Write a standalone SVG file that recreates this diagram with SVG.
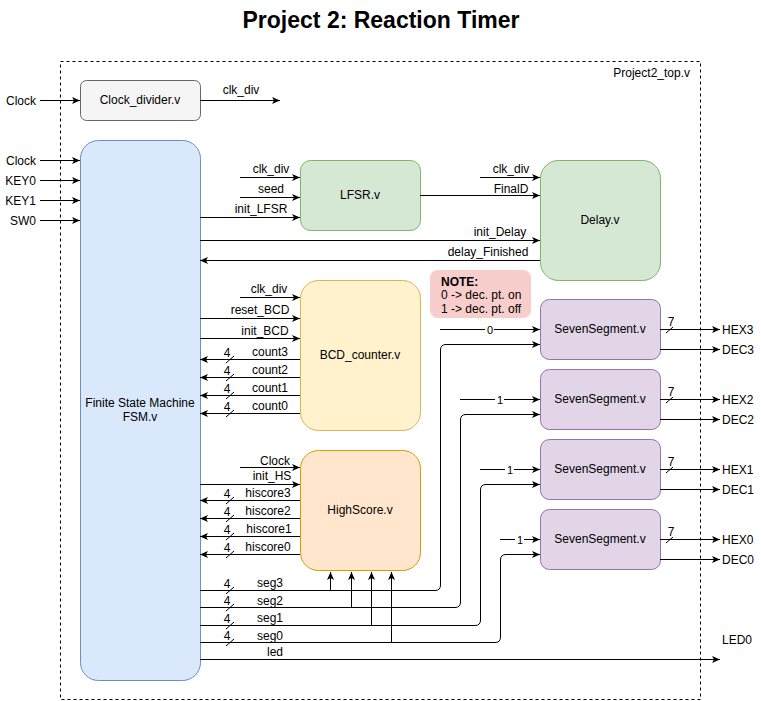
<svg xmlns="http://www.w3.org/2000/svg" width="761" height="701" viewBox="0 0 761 701">
<style>
text{font-family:"Liberation Sans",Arial,sans-serif;font-size:12px;fill:#000}
.m{text-anchor:middle}
.e{text-anchor:end}
.c{fill:none;stroke:#000;stroke-width:1}
.a{marker-end:url(#ah)}
.sl{stroke:#000;stroke-width:1}
.bg{fill:#fff}
</style>
<defs>
<marker id="ah" viewBox="0 0 8 8" refX="8" refY="4" markerWidth="8" markerHeight="8" orient="auto" markerUnits="userSpaceOnUse">
<path d="M0,0.5 L8,4 L0,7.5 L2,4 z" fill="#000"/>
</marker>
</defs>
<rect width="761" height="701" fill="#fff"/>
<text x="381" y="28" class="m" style="font-size:23px;font-weight:bold">Project 2: Reaction Timer</text>

<g id="top">
<rect x="60.5" y="61.5" width="640" height="638" fill="none" stroke="#000" stroke-dasharray="3 3"/>
<text x="690" y="77" class="e">Project2_top.v</text>
</g>

<g id="clock_divider">
<rect x="80.5" y="80.5" width="120" height="40" rx="6" fill="#f5f5f5" stroke="#666"/>
<text x="140" y="104" class="m">Clock_divider.v</text>
</g>

<g id="fsm">
<rect x="80.5" y="140.5" width="120" height="540" rx="18" fill="#dae8fc" stroke="#6c8ebf"/>
<text x="140" y="407" class="m">Finite State Machine</text>
<text x="140" y="421" class="m">FSM.v</text>
</g>

<g id="lfsr">
<rect x="300.5" y="160.5" width="120" height="70" rx="10" fill="#d5e8d4" stroke="#82b366"/>
<text x="360" y="199" class="m">LFSR.v</text>
</g>

<g id="delay">
<rect x="540.5" y="160.5" width="120" height="120" rx="18" fill="#d5e8d4" stroke="#82b366"/>
<text x="600" y="224" class="m">Delay.v</text>
</g>

<g id="note">
<rect x="430.5" y="270.5" width="100" height="47" rx="7" fill="#f8cecc" stroke="#f8cecc"/>
<text x="441" y="286" style="font-weight:bold">NOTE:</text>
<text x="441" y="299">0 -&gt; dec. pt. on</text>
<text x="441" y="313">1 -&gt; dec. pt. off</text>
</g>

<g id="bcd_counter">
<rect x="300.5" y="280.5" width="120" height="150" rx="18" fill="#fff2cc" stroke="#d6b656"/>
<text x="360" y="359" class="m">BCD_counter.v</text>
</g>

<g id="highscore">
<rect x="300.5" y="450.5" width="120" height="120" rx="18" fill="#ffe6cc" stroke="#d79b00"/>
<text x="360" y="514" class="m">HighScore.v</text>
</g>

<g id="sevenseg3">
<rect x="540.5" y="299.5" width="120" height="60" rx="9" fill="#e1d5e7" stroke="#9673a6"/>
<text x="600" y="333" class="m">SevenSegment.v</text>
</g>
<g id="sevenseg2">
<rect x="540.5" y="369.5" width="120" height="60" rx="9" fill="#e1d5e7" stroke="#9673a6"/>
<text x="600" y="403" class="m">SevenSegment.v</text>
</g>
<g id="sevenseg1">
<rect x="540.5" y="439.5" width="120" height="60" rx="9" fill="#e1d5e7" stroke="#9673a6"/>
<text x="600" y="473" class="m">SevenSegment.v</text>
</g>
<g id="sevenseg0">
<rect x="540.5" y="509.5" width="120" height="60" rx="9" fill="#e1d5e7" stroke="#9673a6"/>
<text x="600" y="543" class="m">SevenSegment.v</text>
</g>

<g id="connectors">
<!-- external inputs -->
<path class="c a" d="M40,100.5 H80"/>
<text x="36" y="105" class="e">Clock</text>
<path class="c a" d="M40,160.5 H80"/>
<text x="36" y="165" class="e">Clock</text>
<path class="c a" d="M40,180.5 H80"/>
<text x="36" y="185" class="e">KEY0</text>
<path class="c a" d="M40,200.5 H80"/>
<text x="36" y="205" class="e">KEY1</text>
<path class="c a" d="M40,220.5 H80"/>
<text x="36" y="225" class="e">SW0</text>

<path class="c a" d="M200,100.5 H280"/>
<text x="241" y="94" class="m">clk_div</text>

<!-- LFSR -->
<path class="c a" d="M240,177.5 H300"/>
<text x="271" y="173" class="m">clk_div</text>
<path class="c a" d="M240,197.5 H300"/>
<text x="271" y="193" class="m">seed</text>
<path class="c a" d="M200,217.5 H300"/>
<text x="261" y="213" class="m">init_LFSR</text>

<!-- Delay -->
<path class="c a" d="M480,177.5 H540"/>
<text x="511" y="173" class="m">clk_div</text>
<path class="c a" d="M420,195.5 H540"/>
<text x="511" y="193" class="m">FinalD</text>
<path class="c a" d="M200,240.5 H540"/>
<text x="500" y="236" class="m">init_Delay</text>
<path class="c a" d="M540,260.5 H200"/>
<text x="488" y="256" class="m">delay_Finished</text>

<!-- BCD -->
<path class="c a" d="M240,297.5 H300"/>
<text x="269" y="293" class="m">clk_div</text>
<path class="c a" d="M200,318.5 H300"/>
<text x="260" y="314" class="m">reset_BCD</text>
<path class="c a" d="M200,338.5 H300"/>
<text x="265" y="335" class="m">init_BCD</text>

<path class="c a" d="M300,359.5 H200"/>
<text x="270" y="356" class="m">count3</text>
<text x="227" y="357" class="m">4</text>
<path class="sl" d="M226,363 L234,356"/>
<path class="c a" d="M300,377.5 H200"/>
<text x="270" y="374" class="m">count2</text>
<text x="227" y="375" class="m">4</text>
<path class="sl" d="M226,381 L234,374"/>
<path class="c a" d="M300,395.5 H200"/>
<text x="270" y="392" class="m">count1</text>
<text x="227" y="393" class="m">4</text>
<path class="sl" d="M226,399 L234,392"/>
<path class="c a" d="M300,413.5 H200"/>
<text x="270" y="410" class="m">count0</text>
<text x="227" y="411" class="m">4</text>
<path class="sl" d="M226,417 L234,410"/>

<!-- HighScore -->
<path class="c a" d="M240,467.5 H300"/>
<text x="275" y="465" class="m">Clock</text>
<path class="c a" d="M200,484.5 H300"/>
<text x="272" y="480" class="m">init_HS</text>

<path class="c a" d="M300,500.5 H200"/>
<text x="268" y="497" class="m">hiscore3</text>
<text x="227" y="498" class="m">4</text>
<path class="sl" d="M226,504 L234,497"/>
<path class="c a" d="M300,518.5 H200"/>
<text x="268" y="515" class="m">hiscore2</text>
<text x="227" y="516" class="m">4</text>
<path class="sl" d="M226,522 L234,515"/>
<path class="c a" d="M300,536.5 H200"/>
<text x="269" y="533" class="m">hiscore1</text>
<text x="227" y="534" class="m">4</text>
<path class="sl" d="M226,540 L234,533"/>
<path class="c a" d="M300,554.5 H200"/>
<text x="268" y="551" class="m">hiscore0</text>
<text x="227" y="552" class="m">4</text>
<path class="sl" d="M226,558 L234,551"/>

<!-- seg lines -->
<path class="c a" d="M200,590.5 H435 Q440.5,590.5 440.5,585 V350 Q440.5,344.5 446,344.5 H540"/>
<text x="270" y="587" class="m">seg3</text>
<text x="227" y="588" class="m">4</text>
<path class="sl" d="M226,594 L234,587"/>
<path class="c a" d="M200,607.5 H455 Q460.5,607.5 460.5,602 V420 Q460.5,414.5 466,414.5 H540"/>
<text x="270" y="605" class="m">seg2</text>
<text x="227" y="605" class="m">4</text>
<path class="sl" d="M226,611 L234,604"/>
<path class="c a" d="M200,625.5 H475 Q480.5,625.5 480.5,620 V490 Q480.5,484.5 486,484.5 H540"/>
<text x="270" y="622" class="m">seg1</text>
<text x="227" y="623" class="m">4</text>
<path class="sl" d="M226,629 L234,622"/>
<path class="c a" d="M200,642.5 H495 Q500.5,642.5 500.5,637 V560 Q500.5,554.5 506,554.5 H540"/>
<text x="270" y="640" class="m">seg0</text>
<text x="227" y="640" class="m">4</text>
<path class="sl" d="M226,646 L234,639"/>

<path class="c a" d="M200,659.5 H720"/>
<text x="275" y="656" class="m">led</text>
<text x="737" y="644" class="m">LED0</text>

<!-- taps into HighScore -->
<path class="c a" d="M330.5,590 V572"/>
<path class="c a" d="M351.5,607 V572"/>
<path class="c a" d="M371.5,625 V572"/>
<path class="c a" d="M391.5,642 V572"/>

<!-- constant inputs -->
<path class="c a" d="M440,329.5 H540"/>
<rect x="485" y="323" width="9" height="13" class="bg"/>
<text x="490" y="334" class="m" style="font-size:11px">0</text>
<path class="c a" d="M460,399.5 H540"/>
<rect x="495" y="393" width="9" height="13" class="bg"/>
<text x="500" y="404" class="m" style="font-size:11px">1</text>
<path class="c a" d="M480,469.5 H540"/>
<rect x="505" y="463" width="9" height="13" class="bg"/>
<text x="510" y="474" class="m" style="font-size:11px">1</text>
<path class="c a" d="M500,539.5 H540"/>
<rect x="515" y="533" width="9" height="13" class="bg"/>
<text x="520" y="544" class="m" style="font-size:11px">1</text>

<!-- outputs -->
<path class="c a" d="M660,329.5 H720"/>
<text x="671" y="326" class="m">7</text>
<path class="sl" d="M666,333 L673,327"/>
<text x="722" y="334">HEX3</text>
<path class="c a" d="M660,349.5 H720"/>
<text x="722" y="354">DEC3</text>

<path class="c a" d="M660,399.5 H720"/>
<text x="671" y="396" class="m">7</text>
<path class="sl" d="M666,403 L673,397"/>
<text x="722" y="404">HEX2</text>
<path class="c a" d="M660,419.5 H720"/>
<text x="722" y="424">DEC2</text>

<path class="c a" d="M660,469.5 H720"/>
<text x="671" y="466" class="m">7</text>
<path class="sl" d="M666,473 L673,467"/>
<text x="722" y="474">HEX1</text>
<path class="c a" d="M660,489.5 H720"/>
<text x="722" y="494">DEC1</text>

<path class="c a" d="M660,539.5 H720"/>
<text x="671" y="536" class="m">7</text>
<path class="sl" d="M666,543 L673,537"/>
<text x="722" y="544">HEX0</text>
<path class="c a" d="M660,559.5 H720"/>
<text x="722" y="564">DEC0</text>
</g>
</svg>
